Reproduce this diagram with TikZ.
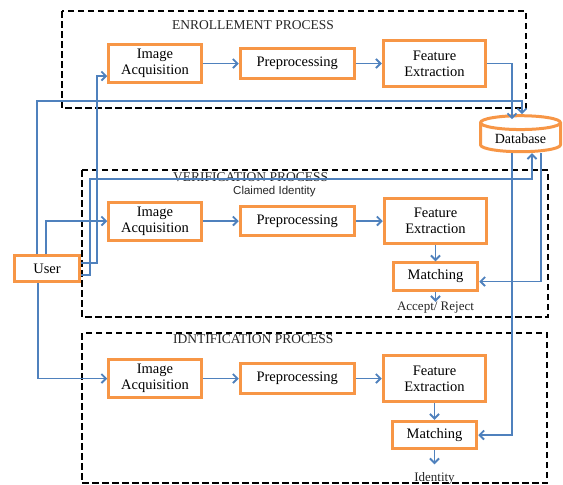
\documentclass[tikz,border=0pt]{standalone}
\usepackage{fontspec}
\setmainfont{Liberation Serif}
\newfontfamily\lsans{Liberation Sans}
\usepackage{xcolor}
\definecolor{boxorange}{HTML}{F79646}
\definecolor{linkblue}{HTML}{4F81BD}
\usetikzlibrary{positioning,arrows.meta,shapes.geometric}
\tikzset{
  stage/.style ={rectangle, draw=boxorange, line width=3pt, fill=white, align=center,
                 inner sep=2pt, font=\fontsize{14.5}{16}\selectfont},
  iabox/.style ={stage, minimum width=92.5pt, minimum height=38pt},
  ppbox/.style ={stage, minimum width=114pt, minimum height=29.5pt},
  febox/.style ={stage, minimum width=102.5pt, minimum height=45.5pt},
  mbox/.style  ={stage, minimum width=84.5pt, minimum height=27.5pt},
  ubox/.style  ={stage, minimum width=65pt, minimum height=26pt},
  dbase/.style ={cylinder, shape border rotate=90, aspect=0.25, draw=boxorange,
                 line width=3pt, fill=white, minimum width=80pt, minimum height=36pt,
                 inner sep=2pt, font=\fontsize{14}{16}\selectfont},
  arr/.style   ={-{Straight Barb[length=4.5pt,width=9pt]}, draw=linkblue, line width=1.9pt},
  frame/.style ={draw=black, line width=2.2pt, dash pattern=on 6.5pt off 3.5pt},
  ttl/.style   ={font=\fontsize{13.5}{16}\selectfont, text=black!85, inner sep=0pt, anchor=west},
  el/.style    ={font=\fontsize{13}{15}\selectfont, text=black!85, inner sep=0pt},
}

\begin{document}
\begin{tikzpicture}[x=1pt, y=-1pt]
  \useasboundingbox (0,0) rectangle (563,485);
  % process frames
  \draw[frame] (62,11) rectangle (526,108);
  \draw[frame] (82,170) rectangle (548,317);
  \draw[frame] (82,333) rectangle (547,483);
  \node[ttl] (tenr) at (172,25) {ENROLLEMENT PROCESS};
  \node[ttl] (tver) at (173,177) {VERIFICATION PROCESS};
  \node[ttl] (tidn) at (173,339) {IDNTIFICATION PROCESS};
  \node[el, anchor=west, font=\lsans\fontsize{11.5}{13}\selectfont] (claim) at (233,192) {Claimed Identity};

  % user and database
  \node[ubox] (user) at (47,268.5) {User};
  \node[dbase] (db) at (520.5,139) {Database};

  % enrollment
  \node[iabox] (ia1) at (155,63.5) {Image\\Acquisition};
  \node[ppbox, right=36pt of ia1] (pp1) {Preprocessing};
  \node[febox, right=26pt of pp1] (fe1) {Feature\\Extraction};

  % verification
  \node[iabox] (ia2) at (155,221) {Image\\Acquisition};
  \node[ppbox, right=36pt of ia2] (pp2) {Preprocessing};
  \node[febox, right=27pt of pp2] (fe2) {Feature\\Extraction};
  \node[mbox, below=16pt of fe2] (m2) {Matching};
  \node[el, below=10pt of m2] (acc) {Accept/ Reject};

  % identification
  \node[iabox] (ia3) at (155,378.5) {Image\\Acquisition};
  \node[ppbox, right=36pt of ia3] (pp3) {Preprocessing};
  \node[febox, right=26pt of pp3] (fe3) {Feature\\Extraction};
  \node[mbox, below=17pt of fe3] (m3) {Matching};
  \node[el, below=22pt of m3] (idt) {Identity};

  % connectors
  \draw[arr] (ia1) -- (pp1);
  \draw[arr] (pp1) -- (fe1);
  \draw[arr] (fe1.east) -| ([xshift=-8.5pt,yshift=-5pt]db.north);
  \coordinate (uenr) at (37,101);
  \draw[arr] ([xshift=-10pt]user.north) -- (uenr) -| ([xshift=1.5pt]db.north);
  \coordinate (ubend1) at (97,76);
  \draw[arr] ([yshift=5.5pt]user.east) -| (ubend1) -- ([yshift=-12.5pt]ia1.west);
  \coordinate (ubend2) at (90,179);
  \draw[arr] ([yshift=-6.5pt]user.east) -| (ubend2) -| ([xshift=11.5pt]db.south);
  \draw[arr] ([xshift=-1pt]user.north) |- (ia2.west);
  \draw[arr] ([xshift=-9pt]user.south) |- (ia3.west);

  \draw[arr] (ia2) -- (pp2);
  \draw[arr] (pp2) -- (fe2);
  \draw[arr] (fe2) -- (m2);
  \draw[arr] (m2) -- (acc);
  \draw[arr] ([xshift=20.5pt]db.south) |- ([yshift=-5pt]m2.east);

  \draw[arr] (ia3) -- (pp3);
  \draw[arr] (pp3) -- (fe3);
  \draw[arr] (fe3) -- (m3);
  \draw[arr, shorten >=8pt] (m3) -- (idt);
  \draw[arr] ([xshift=-8.5pt]db.south) |- (m3.east);
\end{tikzpicture}
\end{document}
